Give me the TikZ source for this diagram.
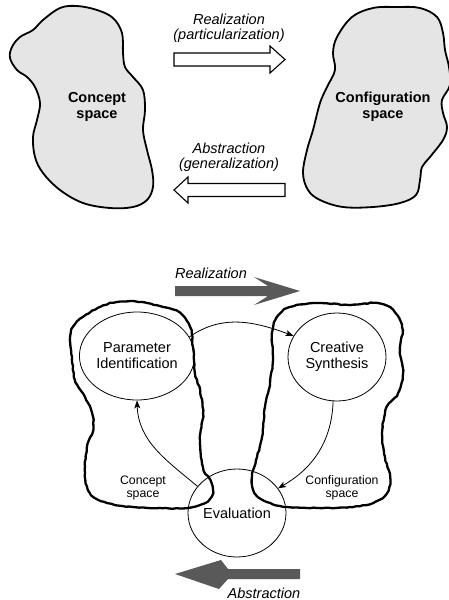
\documentclass[tikz,border=0pt]{standalone}
\usepackage{fontspec}
\setmainfont{Liberation Sans}
\usetikzlibrary{shapes.geometric,arrows.meta,decorations.pathmorphing}

\begin{document}
\begin{tikzpicture}[x=1pt,y=1pt,
  region/.style={draw=black, line width=1.8pt, fill=black!10, line join=round},
  roughregion/.style={draw=black, line width=2.3pt, line join=round,
    decorate, decoration={random steps, segment length=3.5pt, amplitude=0.45pt}},
  blockarrow/.style={draw=black, line width=1.1pt, fill=white, line join=miter},
  bigarrow/.style={fill=black!65},
  stage/.style={ellipse, draw=black, line width=0.8pt, minimum width=98pt,
    minimum height=88pt, align=center, inner sep=0pt,
    font=\fontsize{14.5}{16}\selectfont},
  flow/.style={draw=black, line width=0.8pt, -{Stealth[length=8pt, width=6pt, inset=2pt]}},
  spacename/.style={align=center, inner sep=0pt, font=\bfseries\fontsize{14.5}{16}\selectfont},
  arrowtext/.style={align=center, inner sep=0pt, font=\itshape\fontsize{14.5}{15}\selectfont},
  smalltext/.style={align=center, inner sep=0pt, font=\fontsize{12.3}{12.5}\selectfont},
]
\useasboundingbox (0,0) rectangle (448,-600);
\pgfmathsetseed{7}

% ---------- upper panel: the two spaces ----------
\path[region] plot[smooth cycle, tension=0.6] coordinates {
  (43,-20) (60,-8) (77,-6) (97,-10) (113,-18) (122,-33) (123,-53) (125,-67)
  (133,-77) (143,-90) (145,-110) (143,-130) (147,-150) (152,-170) (153,-187)
  (147,-200) (133,-207) (110,-208) (83,-203) (60,-190) (43,-173) (35,-157)
  (33,-137) (37,-120) (40,-103) (35,-87) (27,-77) (17,-70) (10,-58) (12,-47)
  (20,-37) (33,-30)};

\path[region] plot[smooth cycle, tension=0.6] coordinates {
  (337,-37) (352,-17) (373,-8) (397,-7) (420,-8) (437,-17) (443,-33) (445,-50)
  (449,-67) (450,-85) (442,-100) (443,-113) (447,-127) (443,-140) (430,-157)
  (422,-167) (420,-180) (416,-195) (400,-203) (373,-207) (343,-207) (320,-200)
  (308,-190) (303,-173) (307,-150) (313,-130) (320,-103) (327,-87) (335,-70)
  (333,-53)};

\node[spacename] (concept) at (97,-107) {Concept\\space};
\node[spacename] (config) at (383,-107) {Configuration\\space};

\node[arrowtext] (realtop) at (229,-28.5) {Realization\\(particularization)};
\node[arrowtext] (abstop) at (229,-157.5) {Abstraction\\(generalization)};

\filldraw[blockarrow] (174,-53) -- (270,-53) -- (270,-46) -- (285,-59.5)
  -- (270,-73) -- (270,-66) -- (174,-66) -- cycle;
\filldraw[blockarrow] (285,-183.5) -- (188,-183.5) -- (188,-177) -- (174,-190)
  -- (188,-203) -- (188,-196.5) -- (285,-196.5) -- cycle;

% ---------- lower panel: the design cycle ----------
\draw[roughregion] plot[smooth cycle, tension=0.6] coordinates {
  (100,-307) (117,-302) (140,-302) (163,-307) (180,-313) (190,-327) (193,-347)
  (195,-373) (200,-390) (203,-413) (200,-440) (203,-467) (210,-480) (213,-493)
  (205,-503) (187,-508) (160,-508) (133,-507) (107,-503) (90,-493) (85,-473)
  (87,-447) (93,-430) (92,-413) (85,-397) (75,-380) (72,-357) (70,-340)
  (73,-327) (83,-317)};

\draw[roughregion] plot[smooth cycle, tension=0.6] coordinates {
  (277,-317) (290,-307) (317,-303) (350,-305) (377,-303) (393,-310) (402,-327)
  (400,-350) (403,-373) (398,-393) (387,-407) (382,-433) (385,-457) (390,-477)
  (387,-493) (373,-503) (350,-507) (317,-508) (287,-507) (267,-502) (255,-493)
  (252,-477) (257,-457) (262,-437) (265,-407) (270,-383) (273,-357) (272,-333)};

\node[smalltext] (conceptlbl) at (143,-488) {Concept\\space};
\node[smalltext] (configlbl) at (342,-488) {Configuration\\space};

\node[stage] (pi) at (137,-356) {Parameter\\Identification};
\node[stage] (cs) at (337,-357) {Creative\\Synthesis};
\node[stage] (ev) at (237,-513) {Evaluation};

\draw[flow] (pi.20) to[out=35, in=160] (cs.154);
\draw[flow] (cs.-95) to[out=-92, in=30] (ev.31);
\draw[flow] (ev.146) to[out=140, in=-88] (pi.south);

\node[arrowtext] (realbot) at (211,-273) {Realization};
\node[arrowtext] (absbot) at (264,-593) {Abstraction};

\fill[bigarrow] (175,-286) -- (268,-286) -- (254,-277) -- (300,-291)
  -- (254,-305) -- (268,-296) -- (175,-296) -- cycle;
\fill[bigarrow] (300,-569) -- (228,-569) -- (221,-560) -- (175,-574)
  -- (219,-589) -- (228,-579) -- (300,-579) -- cycle;
\end{tikzpicture}
\end{document}
